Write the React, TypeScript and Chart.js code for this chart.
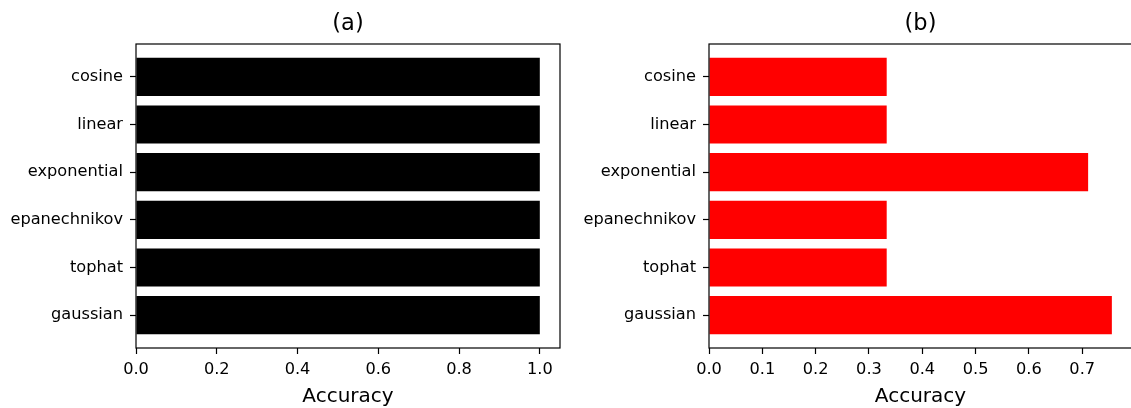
import React, { useEffect, useRef } from 'react';
import { Chart, registerables } from 'chart.js';

Chart.register(...registerables);

// ---- data ----
const categories = ['gaussian', 'tophat', 'epanechnikov', 'exponential', 'linear', 'cosine'];
const accuracyA = [1.0, 1.0, 1.0, 1.0, 1.0, 1.0];
const accuracyB = [0.7556, 0.3333, 0.3333, 0.7111, 0.3333, 0.3333];
const xTicksA = [0.0, 0.2, 0.4, 0.6, 0.8, 1.0];
const xTicksB = [0.0, 0.1, 0.2, 0.3, 0.4, 0.5, 0.6, 0.7];
const titleA = '(a)';
const titleB = '(b)';
const xLabel = 'Accuracy';

const FONT = "'DejaVu Sans', Verdana, sans-serif";
const H = 408;
const AREA_TOP = 44;
const AREA_BOTTOM = 348;

type Panel = {
  values: number[];
  ticks: number[];
  color: string;
  title: string;
  canvasLeft: number;
  canvasWidth: number;
  yAxisWidth: number;
  padRight: number;
};

const panels: Panel[] = [
  { values: accuracyA, ticks: xTicksA, color: '#000000', title: titleA, canvasLeft: 0, canvasWidth: 620, yAxisWidth: 136, padRight: 60 },
  { values: accuracyB, ticks: xTicksB, color: '#ff0000', title: titleB, canvasLeft: 580, canvasWidth: 580, yAxisWidth: 129, padRight: 28 },
];

function makeConfig(p: Panel): any {
  const n = categories.length;
  const ySpan = n - 1 + 0.8;
  const yMin = -0.4 - 0.05 * ySpan;
  const yMax = n - 1 + 0.4 + 0.05 * ySpan;
  const xMax = Math.max(...p.values) * 1.05;

  const frame = {
    id: 'frame',
    afterDatasetsDraw(chart: any) {
      const { ctx, chartArea: a } = chart;
      ctx.save();
      ctx.strokeStyle = '#000';
      ctx.lineWidth = 1.2;
      ctx.strokeRect(a.left, a.top, a.right - a.left, a.bottom - a.top);
      ctx.restore();
    },
    afterDraw(chart: any) {
      const { ctx, chartArea: a } = chart;
      ctx.save();
      ctx.fillStyle = '#000';
      ctx.font = `22.5px ${FONT}`;
      ctx.textAlign = 'center';
      ctx.textBaseline = 'alphabetic';
      ctx.fillText(p.title, (a.left + a.right) / 2, a.top - 14);
      ctx.restore();
    },
  };

  const gridOpts = {
    display: true,
    offset: false,
    drawOnChartArea: false,
    drawTicks: true,
    tickLength: 6,
    tickColor: '#000',
    tickWidth: 1.2,
  };

  return {
    type: 'bar',
    data: {
      datasets: [
        {
          data: p.values.map((v, i) => ({ x: v, y: i })),
          backgroundColor: p.color,
          borderWidth: 0,
          barPercentage: 0.8,
          categoryPercentage: 1.0,
        },
      ],
    },
    options: {
      indexAxis: 'y',
      animation: false,
      responsive: false,
      devicePixelRatio: 1,
      layout: { padding: { left: 0, top: AREA_TOP, right: p.padRight, bottom: 0 } },
      plugins: { legend: { display: false }, tooltip: { enabled: false }, title: { display: false } },
      scales: {
        x: {
          type: 'linear',
          min: 0,
          max: xMax,
          offset: false,
          afterBuildTicks: (s: any) => {
            s.ticks = p.ticks.map((v) => ({ value: v }));
          },
          afterFit: (s: any) => {
            s.height = H - AREA_BOTTOM;
          },
          grid: gridOpts,
          border: { display: false },
          ticks: {
            padding: 6,
            maxRotation: 0,
            autoSkip: false,
            color: '#000',
            font: { family: FONT, size: 16.2 },
            callback: (v: any) => Number(v).toFixed(1),
          },
          title: {
            display: true,
            text: xLabel,
            color: '#000',
            font: { family: FONT, size: 20, lineHeight: 1.0 },
            padding: { top: 0, bottom: 1 },
          },
        },
        y: {
          type: 'linear',
          min: yMin,
          max: yMax,
          offset: false,
          afterBuildTicks: (s: any) => {
            s.ticks = categories.map((_, i) => ({ value: i }));
          },
          afterFit: (s: any) => {
            s.width = p.yAxisWidth;
          },
          grid: gridOpts,
          border: { display: false },
          ticks: {
            padding: 7,
            autoSkip: false,
            color: '#000',
            font: { family: FONT, size: 16.2 },
            callback: (v: any) => categories[Math.round(Number(v))],
          },
        },
      },
    },
    plugins: [frame],
  };
}

function PanelChart({ p }: { p: Panel }) {
  const ref = useRef<HTMLCanvasElement | null>(null);
  useEffect(() => {
    if (!ref.current) return;
    const chart = new Chart(ref.current, makeConfig(p));
    return () => chart.destroy();
  }, [p]);
  return (
    <canvas
      ref={ref}
      width={p.canvasWidth}
      height={H}
      style={{ position: 'absolute', left: p.canvasLeft, top: 0, width: p.canvasWidth, height: H }}
    />
  );
}

export default function App() {
  return (
    <div
      style={{
        position: 'fixed',
        left: 0,
        top: 0,
        width: 1131,
        height: H,
        overflow: 'hidden',
        background: '#fff',
      }}
    >
      {panels.map((p, i) => (
        <PanelChart key={i} p={p} />
      ))}
    </div>
  );
}
